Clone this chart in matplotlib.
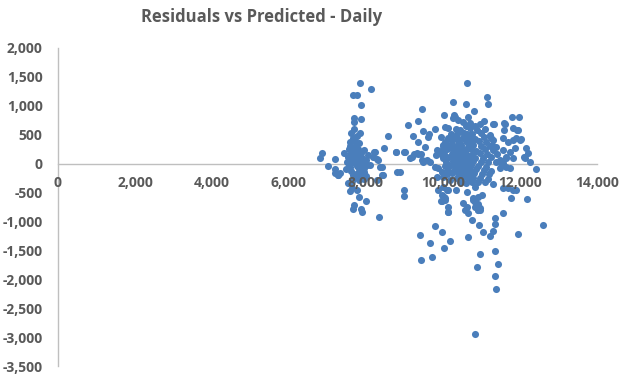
import matplotlib.pyplot as plt
from matplotlib.ticker import FuncFormatter

# Low-demand cluster (predicted, residual)
low_pred = [7850, 8130, 7670, 7760, 7880, 7695, 7695, 7880, 7600, 7850, 7585, 7655, 7810,
            8580, 8475, 8785, 8215, 8175, 8295, 7430, 6865, 6805, 7195, 7020, 8405, 8105,
            7195, 7325, 7265, 8230, 8320, 8360, 8405, 8430, 8275, 8795, 8880, 8995, 8995,
            7540, 7625, 7760, 7585, 7825, 8000, 7690, 7655, 7870, 7885, 8340, 7280, 7190,
            7560, 7600, 7640, 7680, 7700, 7720, 7740, 7760, 7780, 7800, 7820, 7840, 7860,
            7880, 7900, 7920, 7940, 7960, 7580, 7620, 7660, 7700, 7740, 7780, 7820, 7860,
            7900, 7940, 7650, 7690, 7730, 7770, 7810, 7850, 7890, 7610, 7570, 7990, 8020,
            8060, 8010, 7960, 7530, 7500, 7470, 7590, 7720, 7680, 7760, 7640]
low_resid = [1395, 1285, 1190, 1190, 1010, 785, 725, 775, 525, 525, 380, 440, 350,
             470, 270, 200, 200, 120, 80, 180, 185, 90, 85, -40, -55, -25,
             -100, -155, -195, 205, 60, -55, -195, -195, -285, -140, -150, -460, -560,
             -340, -425, -455, -475, -570, -645, -715, -790, -790, -830, -930, -200, -170,
             250, 180, 120, 60, 220, 10, 150, -40, 90, 260, -100, 40, 180,
             -160, 100, -20, 230, -80, -60, -130, -200, -250, -180, -230, -280, -240,
             -200, -140, 290, 140, 300, 200, 130, -10, 30, 40, -10, 60, -30,
             150, -210, -270, 110, 20, -100, 300, 390, 600, 480, -300]

# High-demand cluster (predicted, residual)
high_pred = [9000, 9100, 9210, 9340, 9445, 9365, 9490, 9600, 9640, 9540, 9800, 10030, 10060,
             10265, 10265, 10290, 10615, 10590, 9835, 10005, 9965, 9790, 9875, 9965, 10005,
             9835, 10005, 10095, 9965, 10050, 10180, 10395, 8780, 9185, 9315, 9420, 9490,
             9660, 10005, 9900, 9815, 10310, 10350, 10810, 11150, 11175, 11070, 11305, 11610,
             11590, 11800, 11980, 11825, 11955, 11305, 11265, 11565, 11695, 11810, 11910,
             12015, 11550, 11740, 11870, 11650, 12170, 12215, 12130, 12260, 12415, 11480,
             11565, 11330, 11590, 11930, 12000, 12110, 11825, 11650, 11520, 11480, 11650,
             11740, 11305, 11695, 11825, 11765, 12190, 10050, 10140, 10525, 10615, 10785,
             10915, 11005, 10830, 10960, 10830, 10615, 10785, 10830, 10915, 10570, 10655,
             10745, 10915, 11350, 11350, 11565, 10940, 11045, 11220, 11290, 10655, 11955,
             12605, 11350, 10960, 9400, 9435, 9670, 9720, 9800, 9980, 10030, 10180, 10135,
             10890, 11435, 11355, 11385, 10840, 10900, 10960, 10135, 9965, 10030, 9875,
             10335, 11565, 9940, 10135, 11895, 9575, 9445, 9140, 9245, 9355, 9010,
             10120, 10440, 10710, 10890, 11090, 10210, 10370, 10560, 10750, 10990, 11210,
             9960, 10140, 10320, 10510, 10630, 10840, 11060, 11240,
             10060, 10240, 10430, 10590, 10690, 10930, 11130,
             10010, 10190, 10340, 10480, 10640, 10790, 10990, 11210, 11370,
             10110, 10270, 10410, 10540, 10730, 10870, 11090, 11290,
             10040, 10230, 10370, 10470, 10610, 10750, 10960, 11140, 11410,
             10010, 10160, 10290, 10460, 10570, 10690, 10820, 11030, 11260,
             10090, 10270, 10390, 10530, 10660, 10790, 10990, 11170, 11390,
             10060, 10210, 10340, 10490, 10610, 10730, 10910, 11110,
             10140, 10310, 10440, 10590, 10710, 10850, 11060, 11240,
             10110, 10240, 10430, 10540, 10690, 10810, 11010, 11190,
             10360, 10490, 10660, 10770, 10960, 11160,
             10440, 10610, 10760, 10910, 11090,
             10380, 10470, 10520, 10580, 10620, 10650, 10420, 10550, 10680, 10500,
             10400, 10720, 10560, 10450, 10600, 10350, 10680, 10500, 10620, 10760,
             10700, 10830, 10960, 10520, 10400, 10650]
high_resid = [200, 670, 480, 740, 940, 370, 570, 465, 510, 280, 595, 840, 630,
              1070, 785, 840, 1400, 1025, 235, 235, 150, -55, -80, -140, -225,
              -225, -400, -455, -545, -630, -285, -170, 195, 120, 180, 165, 20,
              20, 320, 220, 150, 810, 595, 910, 1150, 1030, 740, 685, 680,
              580, 800, 800, 620, 580, 410, 320, 440, 380, 410, 440,
              425, 235, 205, 275, 120, 275, 180, 100, 20, -95, 60,
              5, 680, 700, 580, 410, 120, 90, 90, 5, -80, -55,
              -80, -360, -425, -455, -600, -620, -600, -745, -685, -745, -630,
              -570, -545, -745, -775, -400, -485, -600, -660, -690, -805, -860,
              -975, -805, -945, -1050, -860, -1060, -1175, -1250, -1165, -1265, -1220,
              -1065, -1505, -1570, -1235, -1670, -1380, -1620, -1080, -1190, -1465, -1345, -840,
              -1795, -1740, -1950, -2175, -2950, -810, -810, -455, -640, -570, -455,
              -455, -425, -645, -830, -455, 60, 60, 90, 160, 160, 200,
              610, 590, 620, 580, 600, 520, 505, 535, 515, 530, 500,
              455, 440, 460, 445, 470, 430, 455, 440,
              375, 390, 370, 385, 360, 395, 370,
              300, 320, 305, 315, 290, 325, 300, 310, 295,
              245, 230, 250, 235, 255, 225, 245, 230,
              170, 160, 180, 165, 175, 155, 180, 165, 170,
              100, 110, 95, 105, 90, 115, 100, 95, 110,
              30, 40, 25, 35, 20, 40, 25, 35, 30,
              -40, -30, -50, -35, -45, -30, -40, -50,
              -110, -100, -120, -105, -115, -100, -110, -120,
              -180, -170, -190, -175, -185, -170, -180, -175,
              -250, -240, -255, -245, -250, -260,
              -320, -330, -310, -325, -315,
              420, 280, 60, 210, -80, 350, -10, 480, 140, -150,
              130, 410, -220, 560, 650, 0, -10, 200, 520, 60,
              700, 650, 690, 720, 760, 800]

x_ticks = list(range(0, 14001, 2000))
y_ticks = list(range(-3500, 2001, 500))

grey = "#595959"
axis_grey = "#BFBFBF"
marker_blue = "#4A7EBB"

fig = plt.figure(figsize=(6.29, 3.79), dpi=100)
ax = fig.add_axes([0.0922, 0.0343, 0.8568, 0.8391])

ax.scatter(low_pred + high_pred, low_resid + high_resid, s=26, color=marker_blue,
           linewidths=0, zorder=3)

ax.set_xlim(0, 14000)
ax.set_ylim(-3500, 2000)
ax.set_xticks(x_ticks)
ax.set_yticks(y_ticks)
fmt = FuncFormatter(lambda v, _: f"{int(v):,}")
ax.xaxis.set_major_formatter(fmt)
ax.yaxis.set_major_formatter(fmt)

# Axes cross at zero, as in the spreadsheet chart
ax.spines["bottom"].set_position(("data", 0))
ax.spines["top"].set_visible(False)
ax.spines["right"].set_visible(False)
for side in ("bottom", "left"):
    ax.spines[side].set_color(axis_grey)
    ax.spines[side].set_linewidth(1)
    ax.spines[side].set_zorder(1)
# tick labels sit on top of the markers
ax.xaxis.set_zorder(5)
ax.yaxis.set_zorder(5)

ax.tick_params(axis="both", length=0, labelcolor=grey)
ax.tick_params(axis="x", pad=9)
ax.tick_params(axis="y", pad=11)
for label in ax.get_xticklabels() + ax.get_yticklabels():
    label.set_fontfamily("Open Sans")
    label.set_fontweight("bold")
    label.set_fontsize(10)

fig.text(0.4165, 0.955, "Residuals vs Predicted - Daily", ha="center", va="center",
         fontsize=12, fontweight="bold", color=grey, family="Open Sans")

fig.savefig("out.png", dpi=100)
